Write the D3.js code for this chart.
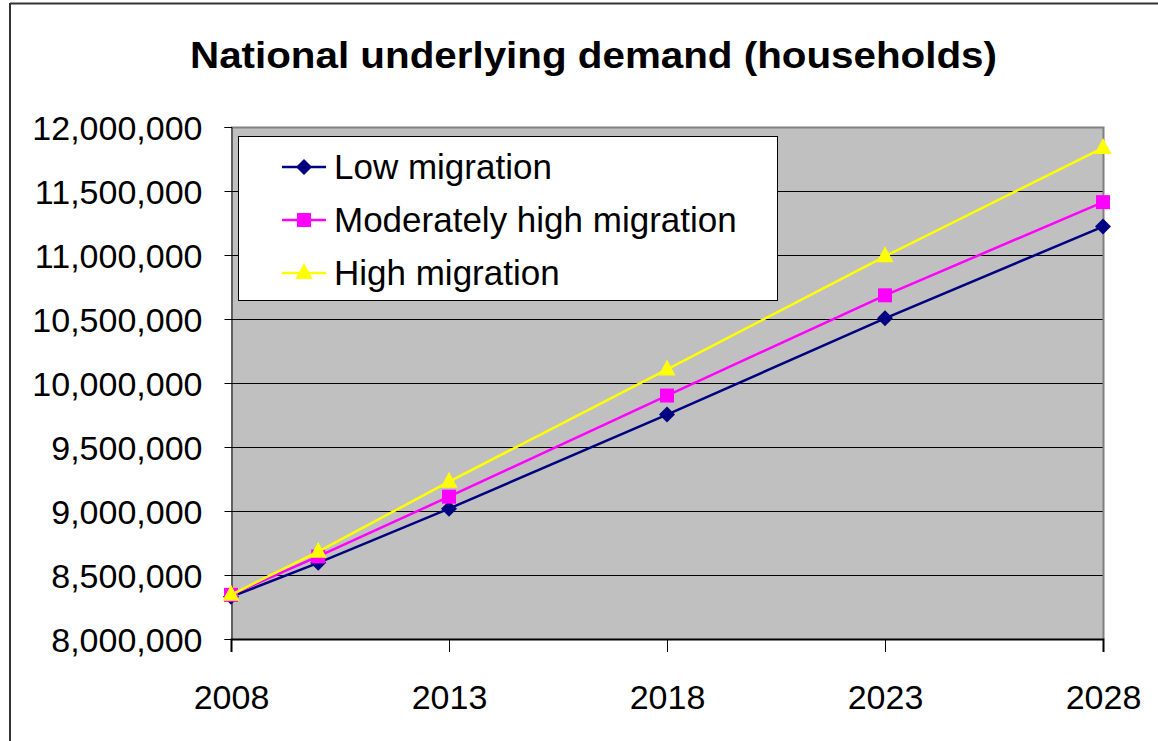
<!DOCTYPE html>
<html>
<head>
<meta charset="utf-8">
<script src="https://cdn.jsdelivr.net/npm/d3@7"></script>
<style>
  html, body { margin: 0; padding: 0; background: #fff; }
  svg { display: block; }
  text { font-family: "Liberation Sans", Arial, sans-serif; fill: #000; }
</style>
</head>
<body>
<svg id="chart" width="1158" height="741"></svg>
<script>
// Projection years and household counts per migration scenario
const years = [2008, 2010, 2013, 2018, 2023, 2028];
const lowMigration = [8330000, 8595000, 9018000, 9753000, 10505000, 11222000];
const moderateMigration = [8345000, 8645000, 9112000, 9902000, 10685000, 11413000];
const highMigration = [8345000, 8682000, 9229000, 10106000, 10990000, 11836000];

const seriesNames = ["Low migration", "Moderately high migration", "High migration"];
const seriesColors = ["#000080", "#FF00FF", "#FFFF00"];
const seriesShapes = ["diamond", "square", "triangle"];

const xTickValues = [2008, 2013, 2018, 2023, 2028];
const yTickValues = [8000000, 8500000, 9000000, 9500000, 10000000, 10500000, 11000000, 11500000, 12000000];

const titleText = "National underlying demand (households)";

const svg = d3.select("#chart");

// Outer chart frame
svg.append("line").attr("x1", 10).attr("x2", 1158).attr("y1", 3.5).attr("y2", 3.5)
  .attr("stroke", "#333").attr("stroke-width", 2);
svg.append("line").attr("x1", 10).attr("x2", 10).attr("y1", 3).attr("y2", 741)
  .attr("stroke", "#333").attr("stroke-width", 2);

// Title
svg.append("text")
  .attr("x", 593.5).attr("y", 68)
  .attr("text-anchor", "middle")
  .attr("font-size", 36).attr("font-weight", "bold")
  .attr("textLength", 807).attr("lengthAdjust", "spacingAndGlyphs")
  .text(titleText);

const plot = { left: 231, right: 1103, top: 127, bottom: 639 };

const x = d3.scaleLinear().domain([2008, 2028]).range([plot.left, plot.right]);
const y = d3.scaleLinear().domain([8000000, 12000000]).range([plot.bottom, plot.top]);

// Plot background
svg.append("rect")
  .attr("x", plot.left).attr("y", plot.top)
  .attr("width", plot.right - plot.left).attr("height", plot.bottom - plot.top)
  .attr("fill", "#C0C0C0");

// Horizontal gridlines
svg.append("g").selectAll("line")
  .data(yTickValues.filter(v => v > 8000000 && v < 12000000))
  .join("line")
  .attr("x1", plot.left).attr("x2", plot.right)
  .attr("y1", d => Math.round(y(d)) + 0.5).attr("y2", d => Math.round(y(d)) + 0.5)
  .attr("stroke", "#000").attr("stroke-width", 1);

// Plot area border (top and right)
svg.append("path")
  .attr("d", `M${plot.left},${plot.top + 0.5}H${plot.right + 0.5}V${plot.bottom}`)
  .attr("fill", "none").attr("stroke", "#808080").attr("stroke-width", 2);

// Y axis
const fmt = d3.format(",");
const yAxis = d3.axisLeft(y).tickValues(yTickValues).tickFormat(fmt).tickSize(7).tickPadding(22);
const yg = svg.append("g").attr("transform", `translate(${plot.left + 0.5},0)`).call(yAxis);
yg.select(".domain").attr("stroke", "#000");
yg.selectAll(".tick line").attr("stroke", "#000");
yg.selectAll("text")
  .attr("font-family", "Liberation Sans, Arial, sans-serif")
  .attr("font-size", 34).attr("fill", "#000")
  .attr("dy", "0.36em");

// X axis
const xAxis = d3.axisBottom(x).tickValues(xTickValues).tickFormat(d3.format("d")).tickSize(13).tickPadding(33);
const xg = svg.append("g").attr("transform", `translate(0,${plot.bottom})`).call(xAxis);
xg.select(".domain").attr("stroke", "#000").attr("stroke-width", 2);
xg.selectAll(".tick line").attr("stroke", "#000");
xg.selectAll("text")
  .attr("font-family", "Liberation Sans, Arial, sans-serif")
  .attr("font-size", 34).attr("fill", "#000");

// Marker shapes
function markerPath(shape) {
  if (shape === "diamond") return "M0,-8L8,0L0,8L-8,0Z";
  if (shape === "square") return "M-7,-7H7V7H-7Z";
  return "M0,-10L8.5,6H-8.5Z";
}

const seriesData = [lowMigration, moderateMigration, highMigration];
const line = d3.line().x((d, i) => x(years[i])).y(d => y(d));

seriesData.forEach((vals, s) => {
  const g = svg.append("g");
  g.append("path")
    .datum(vals)
    .attr("d", line)
    .attr("fill", "none")
    .attr("stroke", seriesColors[s])
    .attr("stroke-width", 2.5);
  g.selectAll("path.marker")
    .data(vals)
    .join("path")
    .attr("class", "marker")
    .attr("transform", (d, i) => `translate(${x(years[i])},${y(d)})`)
    .attr("d", markerPath(seriesShapes[s]))
    .attr("fill", seriesColors[s]);
});

// Legend
const legend = svg.append("g");
legend.append("rect")
  .attr("x", 238.5).attr("y", 136.5).attr("width", 539).attr("height", 164)
  .attr("fill", "#fff").attr("stroke", "#000").attr("stroke-width", 1);

const legendRows = [167, 220, 273];
seriesNames.forEach((name, s) => {
  const cy = legendRows[s];
  legend.append("line")
    .attr("x1", 282).attr("x2", 326).attr("y1", cy).attr("y2", cy)
    .attr("stroke", seriesColors[s]).attr("stroke-width", 2.5);
  legend.append("path")
    .attr("transform", `translate(304,${cy})`)
    .attr("d", markerPath(seriesShapes[s]))
    .attr("fill", seriesColors[s]);
  legend.append("text")
    .attr("x", 334).attr("y", cy + 12)
    .attr("font-size", 35)
    .text(name);
});
</script>
</body>
</html>
